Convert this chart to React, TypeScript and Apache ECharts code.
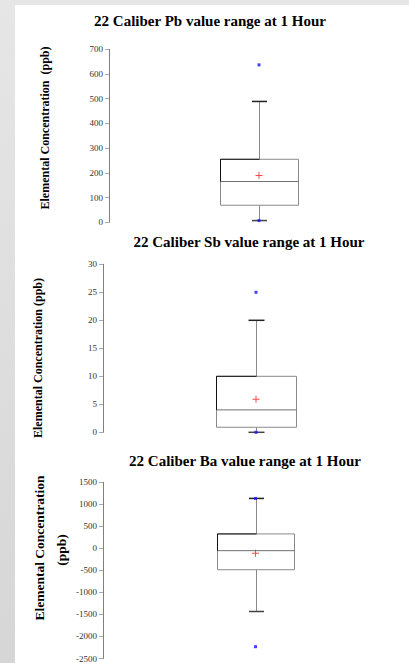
import React, { useEffect, useRef } from "react";
import * as echarts from "echarts";

const titles = [
  "22 Caliber Pb value range at 1 Hour",
  "22 Caliber Sb value range at 1 Hour",
  "22 Caliber Ba value range at 1 Hour",
];
const categories = ["Pb", "Sb", "Ba"];
// [min whisker, Q1, median, Q3, max whisker]
const pbBox = [7, 69, 165, 255, 489];
const sbBox = [0, 0.9, 4, 10, 20];
const baBox = [-1433, -485, -52, 328, 1134];
const pbMean = 189;
const sbMean = 5.9;
const baMean = -112;
const pbOutliers = [637, 7];
const sbOutliers = [25, 0];
const baOutliers = [1134, -2231];
const yRanges = [
  { min: 0, max: 700, interval: 100 },
  { min: 0, max: 30, interval: 5 },
  { min: -2500, max: 1500, interval: 500 },
];

const serif = "'Liberation Serif', 'Times New Roman', serif";

function makeRender(boxW: number, capW: number) {
  return (params: any, api: any) => {
    const x = api.value(0);
    const p = (v: number) => api.coord([x, v]);
    const [cx0, yMin] = p(api.value(1));
    const yQ1 = p(api.value(2))[1];
    const yMed = p(api.value(3))[1];
    const yQ3 = p(api.value(4))[1];
    const yMax = p(api.value(5))[1];
    const cx = Math.round(cx0) + 0.5;
    const l = Math.round(cx0 - boxW / 2) + 0.5;
    const r = l + boxW;
    const gray = "#8a8a8a";
    const line = (x1: number, y1: number, x2: number, y2: number, stroke: string, w = 1) => ({
      type: "line",
      shape: { x1, y1, x2, y2 },
      style: { stroke, lineWidth: w },
    });
    return {
      type: "group",
      children: [
        line(cx, yQ3, cx, yMax, gray),
        line(cx, yQ1, cx, yMin, gray),
        {
          type: "rect",
          shape: { x: l, y: yQ3, width: boxW, height: yQ1 - yQ3 },
          style: { fill: "#fff", stroke: gray, lineWidth: 1 },
        },
        line(l, yMed, r, yMed, "#707070"),
        line(l, yQ3, cx, yQ3, "#111"),
        line(l, yQ3, l, yMed, "#111"),
        line(cx - capW / 2, yMax, cx + capW / 2, yMax, "#222", 1.5),
        line(cx - capW / 2, yMin, cx + capW / 2, yMin, "#444", 1.5),
      ],
    };
  };
}

export default function App() {
  const ref = useRef<HTMLDivElement>(null);
  useEffect(() => {
    const chart = echarts.init(ref.current!, null, { renderer: "svg" });
    const grids = [
      { left: 109, top: 49.3, height: 173, width: 306 },
      { left: 103, top: 264.3, height: 168, width: 320 },
      { left: 103, top: 482.3, height: 178.7, width: 305 },
    ];
    const boxes = [pbBox, sbBox, baBox];
    const means = [pbMean, sbMean, baMean];
    const outs = [pbOutliers, sbOutliers, baOutliers];
    const boxWs = [78, 80, 77];
    const capWs = [15, 16, 15];
    const series: any[] = [];
    boxes.forEach((b, i) => {
      series.push({
        type: "custom",
        xAxisIndex: i,
        yAxisIndex: i,
        renderItem: makeRender(boxWs[i], capWs[i]),
        encode: { x: 0, y: [1, 2, 3, 4, 5] },
        data: [[0, ...b]],
        z: 2,
      });
      series.push({
        type: "scatter",
        xAxisIndex: i,
        yAxisIndex: i,
        symbol: "rect",
        symbolSize: 3,
        itemStyle: { color: "#1414ff" },
        data: outs[i].map((v) => [0, v]),
        z: 5,
      });
      series.push({
        type: "scatter",
        xAxisIndex: i,
        yAxisIndex: i,
        symbol: "path://M4.3,0H5.7V4.3H10V5.7H5.7V10H4.3V5.7H0V4.3H4.3Z",
        symbolSize: 7,
        itemStyle: { color: "#ff1a1a" },
        data: [[0, means[i]]],
        z: 6,
      });
    });
    const option: any = {
      animation: false,
      backgroundColor: "#ffffff",
      title: [
        { text: titles[0], left: 210, top: 13 },
        { text: titles[1], left: 249, top: 234 },
        { text: titles[2], left: 245, top: 453 },
      ].map((t) => ({
        ...t,
        textAlign: "center",
        textStyle: { fontFamily: serif, fontSize: 15, fontWeight: "bold", color: "#000" },
        padding: 0,
      })),
      grid: grids,
      xAxis: grids.map((_, i) => ({
        type: "category",
        gridIndex: i,
        data: [categories[i]],
        show: false,
      })),
      yAxis: yRanges.map((r, i) => ({
        type: "value",
        gridIndex: i,
        min: r.min,
        max: r.max,
        interval: r.interval,
        axisLine: { show: true, lineStyle: { color: "#808080", width: 1 } },
        axisTick: { show: true, length: 4, lineStyle: { color: "#aaa" } },
        splitLine: { show: false },
        axisLabel: {
          fontFamily: serif,
          fontSize: 9,
          color: "#333",
          margin: 6,
          formatter: (v: number) => String(v),
        },
      })),
      graphic: [
        {
          type: "rect",
          shape: { x: 0, y: 0, width: 15, height: 663 },
          style: {
            fill: new echarts.graphic.LinearGradient(0, 0, 0, 1, [
              { offset: 0, color: "#e6e6e6" },
              { offset: 1, color: "#d6d6d6" },
            ]),
          },
          z: -10,
        },
        {
          type: "rect",
          shape: { x: 0, y: 0, width: 409, height: 5 },
          style: { fill: "#e6e6e6" },
          z: -10,
        },
        {
          type: "text",
          x: 45,
          y: 128,
          rotation: Math.PI / 2,
          style: {
            text: "Elemental Concentration  (ppb)",
            font: `bold 12px ${serif}`,
            fill: "#000",
            align: "center",
            verticalAlign: "middle",
          },
        },
        {
          type: "text",
          x: 38,
          y: 358,
          rotation: Math.PI / 2,
          style: {
            text: "Elemental Concentration (ppb)",
            font: `bold 12px ${serif}`,
            fill: "#000",
            align: "center",
            verticalAlign: "middle",
          },
        },
        {
          type: "text",
          x: 39,
          y: 548,
          rotation: Math.PI / 2,
          style: {
            text: "Elemental Concentration",
            font: `bold 13.5px ${serif}`,
            fill: "#000",
            align: "center",
            verticalAlign: "middle",
          },
        },
        {
          type: "text",
          x: 61,
          y: 550,
          rotation: Math.PI / 2,
          style: {
            text: "(ppb)",
            font: `bold 13.5px ${serif}`,
            fill: "#000",
            align: "center",
            verticalAlign: "middle",
          },
        },
      ],
      series,
    };
    chart.setOption(option);
    return () => chart.dispose();
  }, []);
  return (
    <div
      ref={ref}
      style={{ position: "absolute", left: 0, top: 0, width: 409, height: 663 }}
    />
  );
}
